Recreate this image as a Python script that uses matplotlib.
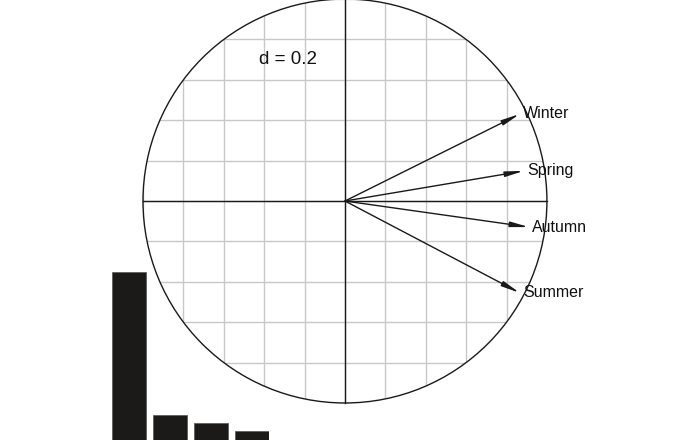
import matplotlib
matplotlib.use("Agg")
import matplotlib.pyplot as plt
import numpy as np
from matplotlib.patches import Circle

plt.rcParams['font.family'] = ['Liberation Sans', 'DejaVu Sans']

# correlation circle: seasons
labels = ["Winter", "Spring", "Autumn", "Summer"]
xs = [0.866, 0.886, 0.911, 0.866]
ys = [0.431, 0.149, -0.129, -0.455]
d = 0.2
# eigenvalues
eig = [3.07, 0.46, 0.31, 0.16]

fig = plt.figure(figsize=(6.98, 4.40), dpi=100)
ax = fig.add_axes([0, 0, 1, 1])
ax.set_xlim(-1.708, 1.748)
ax.set_ylim(-1.183, 0.995)
ax.set_aspect('equal')
ax.axis('off')

circ = Circle((0, 0), 1, fill=False, ec='#1a1a1a', lw=1.0, clip_on=False, zorder=3)
ax.add_patch(circ)

ticks = np.arange(-5, 6) * d
for t in ticks:
    for ln in ax.plot([t, t], [-1, 1], color='#c8c8c8', lw=1.0, zorder=1) + \
              ax.plot([-1, 1], [t, t], color='#c8c8c8', lw=1.0, zorder=1):
        ln.set_clip_path(circ)
ax.plot([-1, 1], [0, 0], color='#1a1a1a', lw=1.0, zorder=2)
ax.plot([0, 0], [-1, 1], color='#1a1a1a', lw=1.0, zorder=2)

ax.text(-0.28, 0.70, "d = 0.2", fontsize=13.5, ha='center', va='center', color='#111111')

for lab, x, y in zip(labels, xs, ys):
    ax.annotate("", xy=(x, y), xytext=(0, 0),
                arrowprops=dict(arrowstyle='-|>,head_length=0.9,head_width=0.13',
                                color='#1a1a1a', lw=1.0, shrinkA=0, shrinkB=0,
                                mutation_scale=12))
    ax.text(x + 0.015, y, lab, fontsize=11.5, ha='left', va='center', color='#111111', zorder=4)

# eigenvalue inset
bx = fig.add_axes([112 / 698, 0, 157 / 698, 168 / 440])
bx.bar(range(len(eig)), eig, width=0.83, color='#1c1a19', edgecolor='#555555', lw=0.5)
bx.set_xlim(-0.415, len(eig) - 0.585)
bx.set_ylim(0, max(eig))
bx.axis('off')

fig.savefig("out.png", dpi=100)
